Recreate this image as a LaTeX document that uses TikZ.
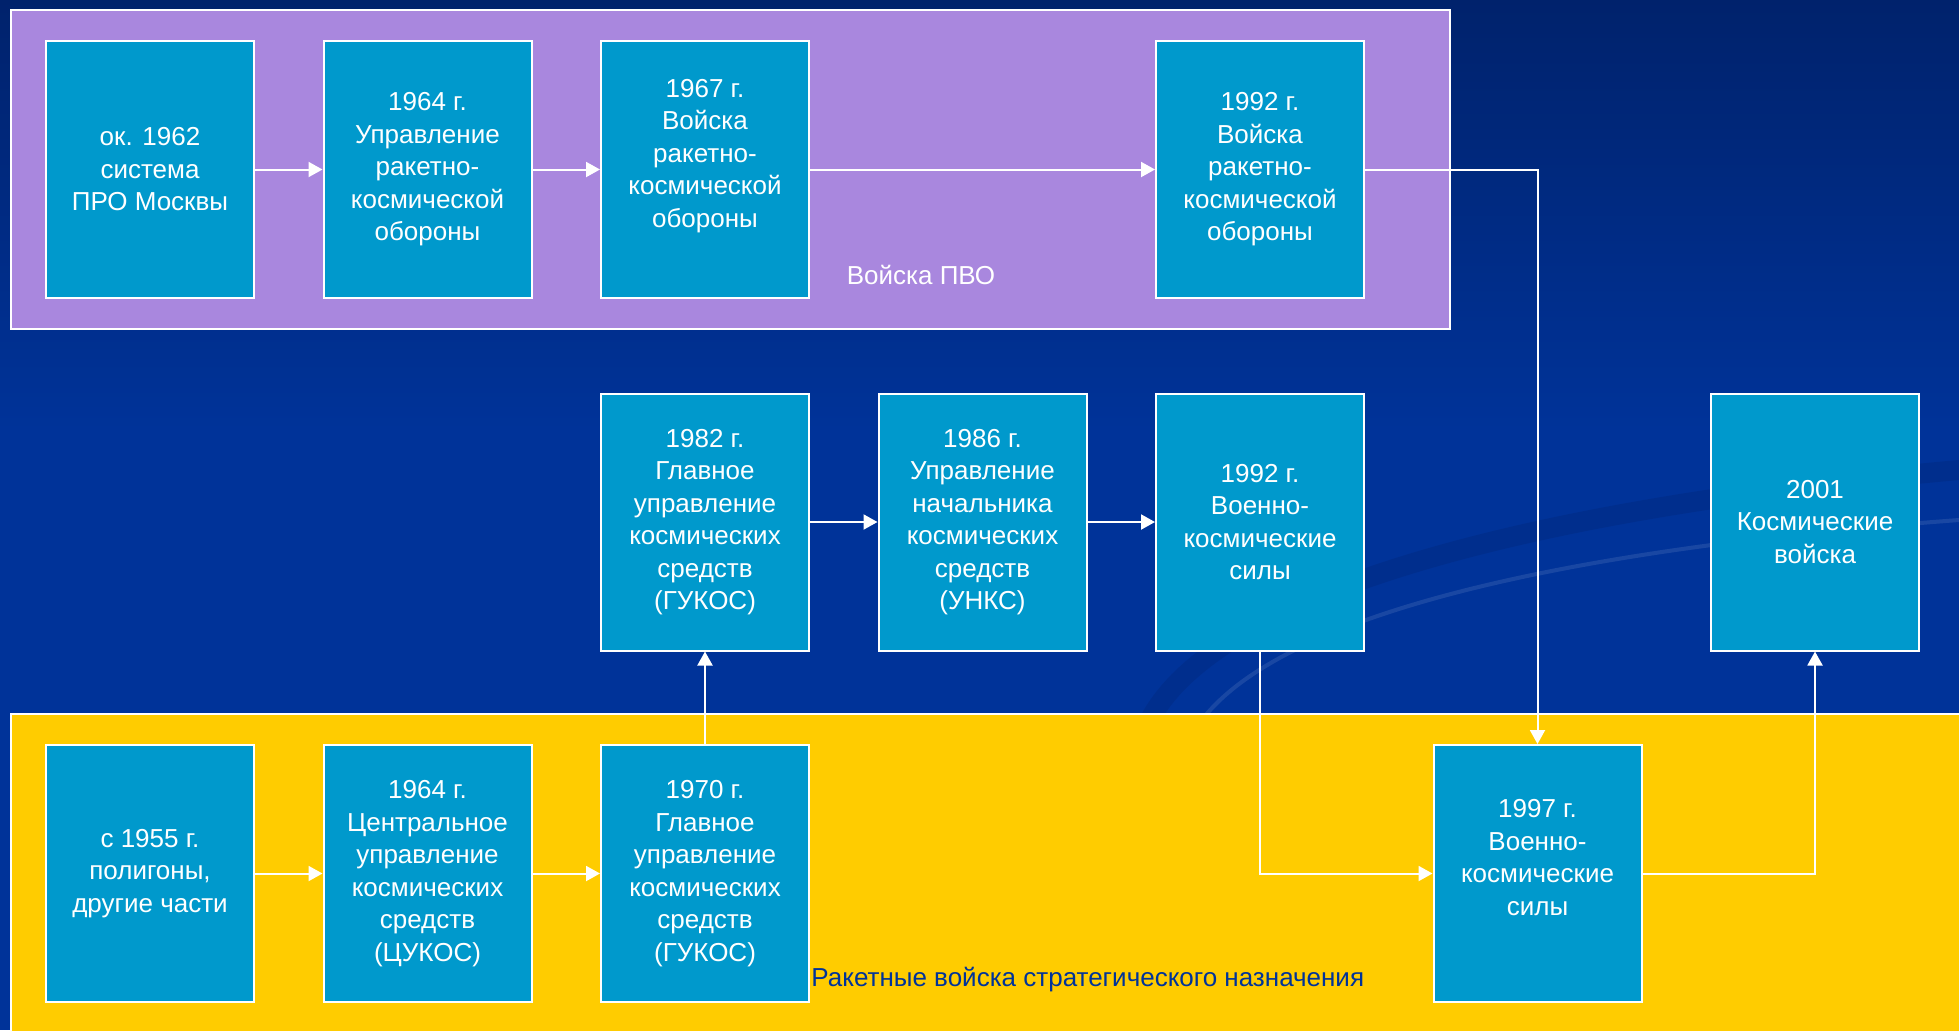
\documentclass[tikz,border=0pt]{standalone}
\usepackage{fontspec}
\setmainfont{Liberation Sans}
\usepackage{tikz}
\usetikzlibrary{arrows.meta}

\definecolor{bgtop}{RGB}{0,34,108}
\definecolor{bgmid}{RGB}{0,51,153}
\definecolor{boxblue}{RGB}{0,153,204}
\definecolor{pvo}{RGB}{169,135,222}
\definecolor{rvsn}{RGB}{255,204,0}

\tikzset{
  box/.style={draw=white, line width=1pt, fill=boxblue, text=white, align=center,
    minimum width=104pt, minimum height=128.5pt, inner sep=0pt,
    font=\fontsize{13}{16.25}\selectfont},
  link/.style={draw=white, line width=1pt, -{Triangle[length=7pt,width=7.5pt]}},
  panel/.style={draw=white, line width=1pt},
  swirl/.style={line cap=round, opacity=0.25}
}

\begin{document}
\begin{tikzpicture}[x=0.5pt, y=-0.5pt]
\clip (0,0) rectangle (1959,1030);
% background
\fill[bgmid] (0,0) rectangle (1959,1030);
\shade[top color=bgtop, bottom color=bgmid] (0,0) rectangle (1959,430);
\draw[swirl, bgtop, line width=10pt] (1140,800) .. controls (1100,640) and (1400,520) .. (1959,470);
\draw[swirl, white!40!bgmid, line width=2pt] (1180,820) .. controls (1140,660) and (1420,560) .. (1959,520);

% panels
\filldraw[panel, fill=pvo] (11,10) rectangle (1450,329);
\filldraw[panel, fill=rvsn] (11,714) rectangle (1990,1060);

% top row
\node[box] (pro) at (150,169.5) {ок. 1962\\система\\ПРО Москвы};
\node[box] (urko) at (427.5,169.5) {1964 г.\\Управление\\ракетно-\\космической\\обороны};
\node[box] (vrko67) at (705,169.5) {1967 г.\\Войска\\ракетно-\\космической\\обороны\\~};
\node[box] (vrko92) at (1260,169.5) {1992 г.\\Войска\\ракетно-\\космической\\обороны};

% middle row
\node[box] (gukos82) at (705,522) {1982 г.\\Главное\\управление\\космических\\средств\\(ГУКОС)};
\node[box] (unks) at (982.5,522) {1986 г.\\Управление\\начальника\\космических\\средств\\(УНКС)};
\node[box] (vks92) at (1260,522) {1992 г.\\Военно-\\космические\\силы};
\node[box] (kv) at (1815,522) {2001\\Космические\\войска};

% bottom row
\node[box] (poly) at (150,873.5) {с 1955 г.\\полигоны,\\другие части};
\node[box] (tsukos) at (427.5,873.5) {1964 г.\\Центральное\\управление\\космических\\средств\\(ЦУКОС)};
\node[box] (gukos70) at (705,873.5) {1970 г.\\Главное\\управление\\космических\\средств\\(ГУКОС)};
\node[box] (vks97) at (1537.5,873.5) {1997 г.\\Военно-\\космические\\силы\\~};

% labels
\node[text=white, font=\fontsize{13}{16}\selectfont] (pvolbl) at (921,275) {Войска ПВО};
\node[text=bgmid, font=\fontsize{13}{16}\selectfont, anchor=west, inner sep=0pt] (rvsnlbl) at (811,980) {Ракетные войска стратегического назначения};

% links
\draw[link] (pro) -- (urko);
\draw[link] (urko) -- (vrko67);
\draw[link] (vrko67) -- (vrko92);
\draw[link] (gukos82) -- (unks);
\draw[link] (unks) -- (vks92);
\draw[link] (poly) -- (tsukos);
\draw[link] (tsukos) -- (gukos70);
\draw[link] (gukos70) -- (gukos82);
\draw[link] (vrko92.east) -| (vks97.north);
\draw[link] (vks92.south) |- (vks97.west);
\draw[link] (vks97.east) -| (kv.south);
\end{tikzpicture}
\end{document}
